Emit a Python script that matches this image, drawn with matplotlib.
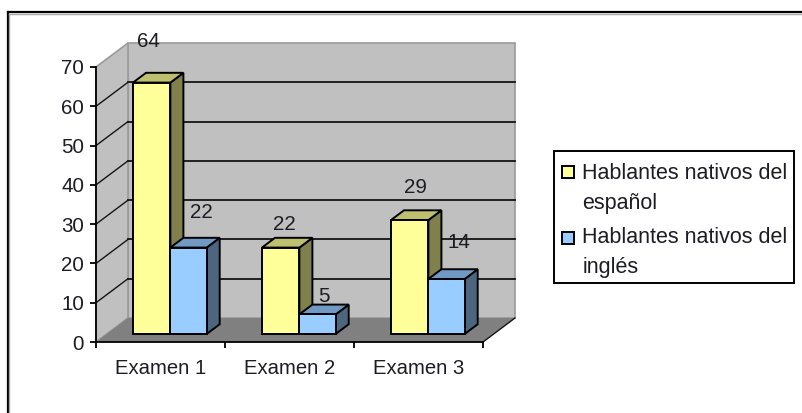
import matplotlib
matplotlib.use("Agg")
import matplotlib.pyplot as plt
from matplotlib.lines import Line2D
from matplotlib.patches import Polygon, Rectangle

plt.rcParams['font.family'] = ['Liberation Sans', 'DejaVu Sans']

W, H = 803, 413

examenes = ["Examen 1", "Examen 2", "Examen 3"]
espanol = [64, 22, 29]
ingles = [22, 5, 14]
y_ticks = [0, 10, 20, 30, 40, 50, 60, 70]
legend_labels = ["Hablantes nativos del\nespañol", "Hablantes nativos del\ninglés"]

# label offsets from the front top centre of each bar, in pixels
offs_espanol = [(-3, 41), (4, 23), (6, 33)]
offs_ingles = [(12, 35), (6, 18), (12, 36)]

YELLOW = ("#FFFF99", "#BFBF70", "#80804D")
BLUE = ("#99CCFF", "#7099C4", "#4D6680")
TEXT = "#1c1c24"
FS = 14.8

# oblique depth of the box, in data units per unit of depth
DX = 32 / 129
DY = 24 / (275 / 70)


def proj(x, v, d=0.0):
    return (x + d * DX, v + d * DY)


def px_rect(x0, y0, x1, y1):
    return [x0 / W, 1 - y1 / H, (x1 - x0) / W, (y1 - y0) / H]


def draw_bar(ax, x, w, v, cols):
    d0, d1 = 1 / 3, 0.74
    front = [proj(x, 0, d0), proj(x + w, 0, d0), proj(x + w, v, d0), proj(x, v, d0)]
    top = [proj(x, v, d0), proj(x + w, v, d0), proj(x + w, v, d1), proj(x, v, d1)]
    side = [proj(x + w, 0, d0), proj(x + w, 0, d1), proj(x + w, v, d1), proj(x + w, v, d0)]
    for pts, c in zip((side, top, front), (cols[2], cols[1], cols[0])):
        ax.add_patch(Polygon(pts, closed=True, fc=c, ec="black", lw=1.4,
                             joinstyle="miter", clip_on=False, zorder=4))


fig = plt.figure(figsize=(W / 100, H / 100), dpi=100, facecolor="white")

# outer chart frame, only top and left are in view
for xs, ys, c, lw in [((8, 803), (12, 12), "black", 1.6),
                      ((8, 8), (12, 413), "black", 1.6),
                      ((9.5, 803), (13.5, 13.5), "#a8a8a8", 1.0),
                      ((9.5, 9.5), (13.5, 413), "#a8a8a8", 1.0)]:
    fig.add_artist(Line2D([x / W for x in xs], [1 - y / H for y in ys], color=c, lw=lw))

ax = fig.add_axes(px_rect(96, 67, 483, 342))
ax.set_xlim(0, 3)
ax.set_ylim(0, 70)
ax.patch.set_visible(False)
for s in ("top", "right"):
    ax.spines[s].set_visible(False)
for s in ("left", "bottom"):
    ax.spines[s].set_linewidth(1.3)
    ax.spines[s].set_zorder(3)

# walls and floor
wall = [proj(0, 0, 1), proj(3, 0, 1), proj(3, 70, 1), proj(0, 70, 1)]
side_wall = [proj(0, 0, 0), proj(0, 0, 1), proj(0, 70, 1), proj(0, 70, 0)]
floor = [proj(0, 0, 0), proj(3, 0, 0), proj(3, 0, 1), proj(0, 0, 1)]
ax.add_patch(Polygon(wall, closed=True, fc="#C0C0C0", ec="#9a9a9a", lw=1.2, clip_on=False, zorder=1))
ax.add_patch(Polygon(side_wall, closed=True, fc="#C0C0C0", ec="#9a9a9a", lw=1.2, clip_on=False, zorder=1))
ax.add_patch(Polygon(floor, closed=True, fc="#808080", ec="none", clip_on=False, zorder=1.5))

# gridlines run along the back wall and down the side wall
for v in y_ticks[1:-1]:
    a, b, c = proj(0, v, 0), proj(0, v, 1), proj(3, v, 1)
    ax.plot([b[0], c[0]], [b[1], c[1]], color="#141414", lw=1.3, clip_on=False, zorder=2)
    ax.plot([a[0], b[0]], [a[1], b[1]], color="#141414", lw=1.0, clip_on=False, zorder=2)
a, b = proj(3, 0, 0), proj(3, 0, 1)
ax.plot([a[0], b[0]], [a[1], b[1]], color="#141414", lw=1.0, clip_on=False, zorder=2)

bar_w = 0.29
for i in range(len(examenes)):
    x0 = i + 0.204
    draw_bar(ax, x0, bar_w, espanol[i], YELLOW)
    draw_bar(ax, x0 + bar_w, bar_w * 0.97, ingles[i], BLUE)
    for vals, offs, x in ((espanol, offs_espanol, x0 + bar_w / 2),
                          (ingles, offs_ingles, x0 + bar_w * 1.5)):
        ax.annotate(str(vals[i]), proj(x, vals[i], 1 / 3), xytext=offs[i],
                    textcoords="offset pixels", ha="center", va="center",
                    fontsize=FS, color=TEXT, zorder=6, annotation_clip=False)

ax.set_yticks(y_ticks)
ax.set_xticks([0, 1, 2, 3])
ax.set_xticklabels([])
ax.set_xticks([0.5, 1.5, 2.5], labels=examenes, minor=True)
ax.tick_params(axis="x", which="major", length=4, width=1.3)
ax.tick_params(axis="x", which="minor", length=0, pad=12.5, labelsize=FS - 0.2, labelcolor=TEXT)
ax.tick_params(axis="y", length=4, width=1.3, pad=4.5, labelsize=FS, labelcolor=TEXT)

# legend box, two-line entries with the swatch beside the first line
lg = fig.add_axes(px_rect(554, 151, 794, 283))
lg.set_xlim(554, 794)
lg.set_ylim(283, 151)
lg.set_xticks([])
lg.set_yticks([])
for s in lg.spines.values():
    s.set_linewidth(1.4)
for lab, cols, sy, ty in zip(legend_labels, (YELLOW, BLUE), (171.5, 237.5), (171, 235)):
    lg.add_patch(Rectangle((562.5, sy - 6), 12, 12, fc=cols[0], ec="black", lw=1.4))
    lg.text(582.5, ty - 8, lab, fontsize=15.5, color=TEXT, va="top", ha="left", linespacing=1.58)

fig.savefig("out.png", dpi=100)
